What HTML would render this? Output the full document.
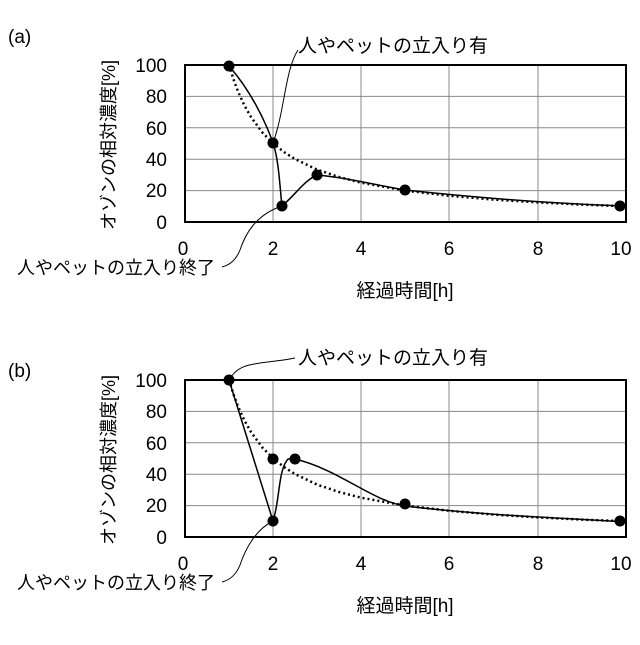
<!DOCTYPE html>
<html><head><meta charset="utf-8"><style>
body{margin:0;background:#fff}
text{font-family:"Liberation Sans","Noto Sans CJK JP",sans-serif;fill:#000}
</style></head><body>
<svg width="640" height="640" viewBox="0 0 640 640" xmlns="http://www.w3.org/2000/svg">
<defs>
<g id="grid">
<g stroke="#888" stroke-width="1">
<line x1="273" y1="0" x2="273" y2="157"/><line x1="361" y1="0" x2="361" y2="157"/>
<line x1="449" y1="0" x2="449" y2="157"/><line x1="538" y1="0" x2="538" y2="157"/>
<line x1="185" y1="31.4" x2="626" y2="31.4"/><line x1="185" y1="62.8" x2="626" y2="62.8"/>
<line x1="185" y1="94.2" x2="626" y2="94.2"/><line x1="185" y1="125.6" x2="626" y2="125.6"/>
</g>
<rect x="185" y="0" width="441" height="157" fill="none" stroke="#000" stroke-width="2"/>
<g font-size="19" text-anchor="end">
<text x="167" y="7">100</text><text x="167" y="38">80</text><text x="167" y="70">60</text>
<text x="167" y="101">40</text><text x="167" y="132">20</text><text x="167" y="164">0</text>
</g>
<g font-size="19" text-anchor="middle">
<text x="183" y="190">0</text><text x="273" y="190">2</text><text x="361" y="190">4</text>
<text x="449" y="190">6</text><text x="538" y="190">8</text><text x="621" y="190">10</text>
</g>
<text x="0" y="0" font-size="18" transform="translate(115,80) rotate(-90)" text-anchor="middle">オゾンの相対濃度[%]</text>
<text x="405" y="232" font-size="19" text-anchor="middle">経過時間[h]</text>
<text x="17" y="209" font-size="18">人やペットの立入り終了</text>
<polyline points="229.1,0 233.5,14.3 237.9,26.2 244.5,40.7 251.2,52.3 262.2,67.3 273.2,78.5 284.2,87.2 295.3,94.2 317.3,104.7 339.4,112.1 361.4,117.75 405.5,125.6 449.6,130.8 493.7,134.6 537.8,137.4 581.9,139.6 626,141.3" fill="none" stroke="#000" stroke-width="2.5" stroke-dasharray="2,3"/>
</g>
</defs>
<text x="8" y="43" font-size="19">(a)</text>
<text x="298" y="52" font-size="19">人やペットの立入り有</text>
<g transform="translate(0,65)"><use href="#grid"/></g>
<path d="M229,66 C250,90 265,120 273,143 C279,160 280,190 282,206 C295,195 305,180 317,175 C350,178 380,186 405,190 C480,198 560,204 626,206" fill="none" stroke="#000" stroke-width="1.5"/>
<path d="M273,143 C285,110 285,70 298,50" fill="none" stroke="#000" stroke-width="1"/>
<path d="M282,206 C255,215 245,235 240,250 C236,260 230,265 222,267" fill="none" stroke="#000" stroke-width="1"/>
<g fill="#000"><circle cx="229" cy="66" r="5.5"/><circle cx="273" cy="143" r="5.5"/><circle cx="282" cy="206" r="5.5"/><circle cx="317" cy="175" r="5.5"/><circle cx="405" cy="190" r="5.5"/><circle cx="620" cy="206" r="5.5"/></g>

<text x="8" y="377" font-size="19">(b)</text>
<text x="298" y="364" font-size="19">人やペットの立入り有</text>
<g transform="translate(0,380)"><use href="#grid"/></g>
<path d="M229,380 L273,521 C280,500 278,470 288,459 L295,459 C340,470 370,500 405,506 C480,515 560,518 626,522" fill="none" stroke="#000" stroke-width="1.5"/>
<path d="M229,380 C240,360 260,365 295,358" fill="none" stroke="#000" stroke-width="1"/>
<path d="M273,521 C255,530 245,550 240,565 C236,575 230,580 222,582" fill="none" stroke="#000" stroke-width="1"/>
<g fill="#000"><circle cx="229" cy="380" r="5.5"/><circle cx="273" cy="459" r="5.5"/><circle cx="273" cy="521" r="5.5"/><circle cx="295" cy="459" r="5.5"/><circle cx="405" cy="504" r="5.5"/><circle cx="620" cy="521" r="5.5"/></g>
</svg>
</body></html>
